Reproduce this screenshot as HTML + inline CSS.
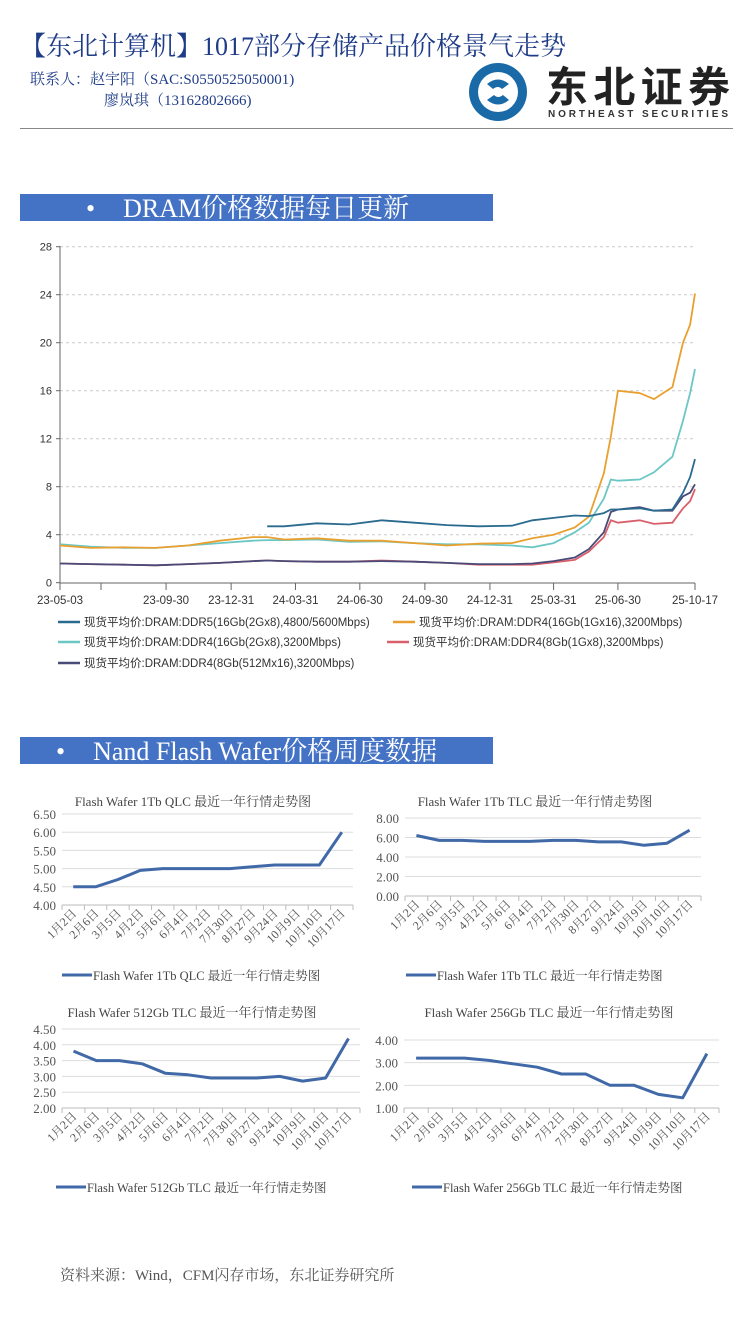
<!DOCTYPE html>
<html><head><meta charset="utf-8">
<style>
body{margin:0;background:#fff;}
#root{position:relative;width:750px;height:1334px;overflow:hidden;background:#fff;font-family:"Liberation Serif","Noto Serif CJK SC",serif;}
.abs{position:absolute;white-space:nowrap;}
.banner{position:absolute;left:20px;width:473px;height:27px;background:#4472c4;color:#fff;font-size:26px;line-height:29px;overflow:hidden;}
svg text{font-family:"Liberation Sans","Noto Sans CJK SC",sans-serif;}
</style></head><body>
<div id="root">
<div class="abs" style="left:20px;top:26px;font-size:26px;color:#1f3c88;">【东北计算机】1017部分存储产品价格景气走势</div>
<div class="abs" style="left:30px;top:68px;font-size:15px;color:#1f3c88;">联系人：赵宇阳（SAC:S0550525050001)</div>
<div class="abs" style="left:104px;top:89px;font-size:15px;color:#1f3c88;">廖岚琪（13162802666)</div>
<div style="position:absolute;left:458px;top:62px;width:276px;height:60px;">
 <svg width="276" height="60"><circle cx="40" cy="30" r="29" fill="#1a6aa8"/><circle cx="40" cy="30" r="20" fill="#fff"/>
 <path d="M29 22 q11 -9 22 0 l-7 5 q-4 -4 -9 0z M51 38 q-11 9 -22 0 l7 -5 q4 4 9 0z" fill="#1a6aa8"/>
 <text x="88" y="40" font-size="42" font-weight="bold" fill="#222" style="font-family:'Noto Sans CJK SC',sans-serif" textLength="184">东北证券</text>
 <text x="90" y="55" font-size="10" font-weight="bold" fill="#333" textLength="180">NORTHEAST SECURITIES</text></svg>
</div>
<div style="position:absolute;left:20px;top:128px;width:713px;height:1px;background:#888;"></div>
<div class="banner" style="top:194px;"><span style="margin-left:66px">•</span><span style="margin-left:28px">DRAM价格数据每日更新</span></div>
<div class="banner" style="top:737px;"><span style="margin-left:36px">•</span><span style="margin-left:28px">Nand Flash Wafer价格周度数据</span></div>
<svg id="main" width="750" height="440" style="position:absolute;left:0;top:240px;"></svg>
<svg id="small" width="750" height="460" style="position:absolute;left:0;top:780px;"></svg>
<div class="abs" style="left:60px;top:1264px;font-size:15px;color:#555;">资料来源：Wind，CFM闪存市场，东北证券研究所</div>
</div>
<script>
const NS="http://www.w3.org/2000/svg";
function mk(p,t,a){const e=document.createElementNS(NS,t);for(const k in a)e.setAttribute(k,a[k]);p.appendChild(e);return e;}

// ---- DRAM chart data ----
const dates=["2023-05-03","2023-06-15","2023-08-01","2023-09-15","2023-10-31","2023-12-15","2024-01-31","2024-02-20","2024-03-15","2024-04-30","2024-06-15","2024-07-31","2024-09-15","2024-10-31","2024-12-15","2025-01-31","2025-03-01","2025-03-31","2025-04-30","2025-05-20","2025-06-10","2025-06-20","2025-06-30","2025-07-31","2025-08-20","2025-09-15","2025-09-30","2025-10-10","2025-10-17"];
const ddr5_16g=[null,null,null,null,null,null,null,4.7,4.7,4.95,4.85,5.2,5.0,4.8,4.7,4.75,5.2,5.4,5.6,5.55,5.8,6.1,6.1,6.2,6.0,6.1,7.5,8.8,10.3];
const ddr4_16g_1gx16=[3.1,2.9,2.95,2.9,3.1,3.5,3.8,3.8,3.6,3.7,3.5,3.5,3.3,3.1,3.25,3.3,3.7,4.0,4.6,5.5,9.1,12.2,16.0,15.8,15.3,16.3,20.0,21.5,24.1];
const ddr4_16g_2gx8=[3.2,3.0,2.9,2.9,3.1,3.3,3.5,3.55,3.55,3.6,3.4,3.45,3.3,3.2,3.2,3.1,2.95,3.3,4.2,5.0,7.0,8.6,8.5,8.6,9.2,10.5,13.5,15.8,17.8];
const ddr4_8g_1gx8=[1.6,1.55,1.5,1.45,1.55,1.65,1.8,1.85,1.8,1.75,1.75,1.85,1.75,1.65,1.5,1.5,1.5,1.7,1.9,2.6,3.8,5.2,5.0,5.2,4.9,5.0,6.2,6.8,7.8];
const ddr4_8g_512mx16=[1.6,1.55,1.5,1.45,1.55,1.65,1.8,1.85,1.8,1.75,1.75,1.8,1.75,1.65,1.55,1.55,1.6,1.8,2.1,2.8,4.2,5.9,6.1,6.3,6.0,6.0,7.2,7.5,8.2];
const yTicks=[0,4,8,12,16,20,24,28];
const xTickDates=["2023-05-03","2023-06-30","2023-09-30","2023-12-31","2024-03-31","2024-06-30","2024-09-30","2024-12-31","2025-03-31","2025-06-30","2025-10-17"];
const xTickLabels=["23-05-03","","23-09-30","23-12-31","24-03-31","24-06-30","24-09-30","24-12-31","25-03-31","25-06-30","25-10-17"];
const seriesNames=["现货平均价:DRAM:DDR5(16Gb(2Gx8),4800/5600Mbps)","现货平均价:DRAM:DDR4(16Gb(1Gx16),3200Mbps)","现货平均价:DRAM:DDR4(16Gb(2Gx8),3200Mbps)","现货平均价:DRAM:DDR4(8Gb(1Gx8),3200Mbps)","现货平均价:DRAM:DDR4(8Gb(512Mx16),3200Mbps)"];

(function(){
 const svg=document.getElementById('main');
 const t0=Date.parse(dates[0]),t1=Date.parse(dates[dates.length-1]);
 const X=d=>60+(Date.parse(d)-t0)/(t1-t0)*635;
 const Y=v=>342.7-v/28*336;
 yTicks.forEach(v=>{
  if(v>0){const g=mk(svg,'line',{x1:60,x2:693,y1:Y(v),y2:Y(v),stroke:'#ccc','stroke-dasharray':'3,3','stroke-width':1});
  
  }
  const t=mk(svg,'text',{x:52,y:Y(v)+4,'text-anchor':'end','font-size':11,fill:'#333'});t.textContent=v;
  
  
  mk(svg,'line',{x1:56,x2:60,y1:Y(v),y2:Y(v),stroke:'#666'});
 });
 mk(svg,'line',{x1:60,x2:60,y1:6,y2:343,stroke:'#666'});
 mk(svg,'line',{x1:60,x2:695,y1:343,y2:343,stroke:'#666'});
 xTickDates.forEach((d,i)=>{
  mk(svg,'line',{x1:X(d),x2:X(d),y1:343,y2:350,stroke:'#666'});
  if(xTickLabels[i]){const t=mk(svg,'text',{x:X(d),y:364,'text-anchor':'middle','font-size':11.5,fill:'#333'});t.textContent=xTickLabels[i];
  
  }
 });
 const series=[ddr5_16g,ddr4_16g_1gx16,ddr4_16g_2gx8,ddr4_8g_1gx8,ddr4_8g_512mx16];
 const colors=['#2a6a8f','#e8a030','#6cc7c4','#d9606a','#4a4a78'];
 const keys=['ddr5-16g','ddr4-16g-1gx16','ddr4-16g-2gx8','ddr4-8g-1gx8','ddr4-8g-512mx16'];
 const order=[2,1,3,4,0];
 order.forEach(si=>{
  let d='';series[si].forEach((v,i)=>{if(v==null)return;d+=(d?'L':'M')+X(dates[i]).toFixed(1)+' '+Y(v).toFixed(1);});
  const p=mk(svg,'path',{d:d,fill:'none',stroke:colors[si],'stroke-width':1.8});
  
  
 });
 const lp=[[58,382],[393,382],[58,402],[387,402],[58,423]];
 seriesNames.forEach((n,i)=>{
  const g=mk(svg,'g',{});
  
  
  mk(g,'line',{x1:lp[i][0],x2:lp[i][0]+22,y1:lp[i][1],y2:lp[i][1],stroke:colors[i],'stroke-width':2.5});
  const t=mk(g,'text',{x:lp[i][0]+26,y:lp[i][1]+4,'font-size':11.5,fill:'#333'});t.textContent=n;
 });
})();

// ---- Nand wafer data ----
const cats=["1月2日","2月6日","3月5日","4月2日","5月6日","6月4日","7月2日","7月30日","8月27日","9月24日","10月9日","10月10日","10月17日"];
const qlc1tb=[4.5,4.5,4.7,4.95,5.0,5.0,5.0,5.0,5.05,5.1,5.1,5.1,6.0];
const tlc1tb=[6.2,5.7,5.7,5.6,5.6,5.6,5.7,5.7,5.55,5.55,5.2,5.4,6.75];
const tlc512=[3.8,3.5,3.5,3.4,3.1,3.05,2.95,2.95,2.95,3.0,2.85,2.95,4.2];
const tlc256=[3.2,3.2,3.2,3.1,2.95,2.8,2.5,2.5,2.0,2.0,1.6,1.45,3.4];
const qlcTicks=[4,4.5,5,5.5,6,6.5];
const tlc1Ticks=[0,2,4,6,8];
const t512Ticks=[2,2.5,3,3.5,4,4.5];
const t256Ticks=[1,2,3,4];

(function(){
 const svg=document.getElementById('small');
 const charts=[
  {name:'qlc-1tb',title:'Flash Wafer 1Tb QLC 最近一年行情走势图',vals:qlc1tb,ticks:qlcTicks,x0:62,x1:353,yTop:34,yBot:125,tx:193,ty:26,ly:195,lx:62},
  {name:'tlc-1tb',title:'Flash Wafer 1Tb TLC 最近一年行情走势图',vals:tlc1tb,ticks:tlc1Ticks,x0:405,x1:701,yTop:38,yBot:116,tx:535,ty:26,ly:195,lx:406},
  {name:'tlc-512gb',title:'Flash Wafer 512Gb TLC 最近一年行情走势图',vals:tlc512,ticks:t512Ticks,x0:62,x1:360,yTop:249,yBot:328,tx:192,ty:237,ly:407,lx:56},
  {name:'tlc-256gb',title:'Flash Wafer 256Gb TLC 最近一年行情走势图',vals:tlc256,ticks:t256Ticks,x0:404,x1:719,yTop:260,yBot:328,tx:549,ty:237,ly:407,lx:412}
 ];
 charts.forEach(c=>{
  const g=mk(svg,'g',{});
  
  
  const lo=c.ticks[0],hi=c.ticks[c.ticks.length-1];
  const Y=v=>c.yBot-(v-lo)/(hi-lo)*(c.yBot-c.yTop);
  const step=(c.x1-c.x0)/cats.length;
  const X=i=>c.x0+step*(i+0.5);
  const tt=mk(g,'text',{x:c.tx,y:c.ty,'text-anchor':'middle','font-size':13,fill:'#444',style:'font-family:"Liberation Serif","Noto Serif CJK SC",serif'});tt.textContent=c.title;
  
  
  c.ticks.forEach(v=>{
   mk(g,'line',{x1:c.x0,x2:c.x1,y1:Y(v),y2:Y(v),stroke:'#ddd','stroke-width':1});
   const t=mk(g,'text',{x:c.x0-6,y:Y(v)+5,'text-anchor':'end','font-size':13,fill:'#555',style:'font-family:"Liberation Serif",serif'});t.textContent=v.toFixed(2);
   
   
  });
  mk(g,'line',{x1:c.x0,x2:c.x1,y1:c.yBot,y2:c.yBot,stroke:'#bbb'});
  cats.forEach((n,i)=>{
   const xt=c.x0+step*i;
   mk(g,'line',{x1:xt,x2:xt,y1:c.yBot,y2:c.yBot+5,stroke:'#bbb'});
   const cx=X(i)+4,cy=c.yBot+9;
   const t=mk(g,'text',{x:cx,y:cy,'text-anchor':'end','font-size':12,fill:'#555',transform:`rotate(-45 ${cx} ${cy})`,style:'font-family:"Liberation Serif","Noto Serif CJK SC",serif'});t.textContent=n;
   
   
  });
  mk(g,'line',{x1:c.x1,x2:c.x1,y1:c.yBot,y2:c.yBot+5,stroke:'#bbb'});
  let d='';c.vals.forEach((v,i)=>{d+=(i?'L':'M')+X(i).toFixed(1)+' '+Y(v).toFixed(1);});
  const p=mk(g,'path',{d:d,fill:'none',stroke:'#4169a8','stroke-width':3,'stroke-linejoin':'round'});
  
  
  mk(g,'line',{x1:c.lx,x2:c.lx+30,y1:c.ly,y2:c.ly,stroke:'#4169a8','stroke-width':3});
  const lt=mk(g,'text',{x:c.lx+31,y:c.ly+5,'font-size':12.5,fill:'#444',style:'font-family:"Liberation Serif","Noto Serif CJK SC",serif'});lt.textContent=c.title;
  
  
 });
})();
</script>
</body></html>
